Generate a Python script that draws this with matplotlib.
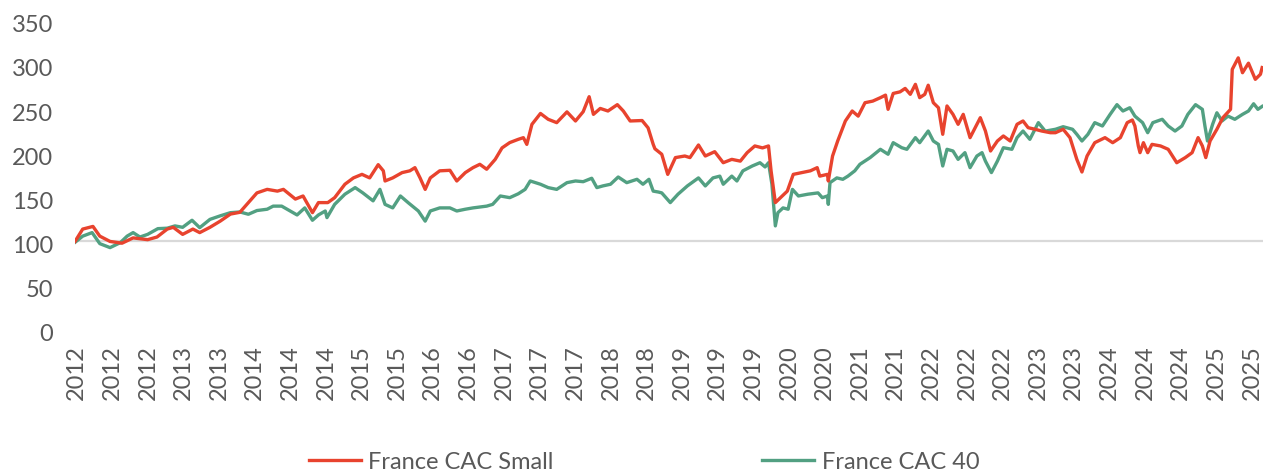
import matplotlib
matplotlib.use("Agg")
import matplotlib.pyplot as plt
import matplotlib.transforms as mtransforms
import numpy as np

plt.rcParams['font.family'] = ['Lato', 'DejaVu Sans']

# France CAC Small, rebased to 100 (decimal year)
small_years = [2012.00, 2012.09, 2012.21, 2012.29, 2012.41, 2012.55, 2012.68, 2012.85, 2012.96, 2013.08,
               2013.15, 2013.26, 2013.38, 2013.46, 2013.58, 2013.70, 2013.82, 2013.93, 2014.03, 2014.13,
               2014.25, 2014.37, 2014.44, 2014.58, 2014.67, 2014.78, 2014.85, 2014.96, 2015.04, 2015.16,
               2015.26, 2015.36, 2015.45, 2015.55, 2015.61, 2015.63, 2015.72, 2015.83, 2015.92, 2015.98,
               2016.04, 2016.10, 2016.16, 2016.27, 2016.39, 2016.47, 2016.57, 2016.66, 2016.74, 2016.82,
               2016.92, 2017.00, 2017.09, 2017.19, 2017.25, 2017.29, 2017.35, 2017.45, 2017.54, 2017.64,
               2017.76, 2017.86, 2017.95, 2018.02, 2018.07, 2018.15, 2018.24, 2018.35, 2018.42, 2018.50,
               2018.64, 2018.71, 2018.77, 2018.79, 2018.87, 2018.94, 2019.03, 2019.14, 2019.20, 2019.30,
               2019.38, 2019.49, 2019.59, 2019.69, 2019.79, 2019.87, 2019.96, 2020.05, 2020.12, 2020.15,
               2020.20, 2020.26, 2020.34, 2020.41, 2020.51, 2020.61, 2020.69, 2020.72, 2020.81, 2020.82,
               2020.87, 2020.93, 2021.02, 2021.10, 2021.17, 2021.25, 2021.34, 2021.43, 2021.49, 2021.52,
               2021.58, 2021.66, 2021.72, 2021.78, 2021.84, 2021.89, 2021.95, 2021.99, 2022.05, 2022.11,
               2022.16, 2022.21, 2022.28, 2022.34, 2022.40, 2022.48, 2022.54, 2022.60, 2022.66, 2022.72,
               2022.80, 2022.87, 2022.95, 2023.03, 2023.10, 2023.16, 2023.24, 2023.32, 2023.42, 2023.48,
               2023.57, 2023.65, 2023.73, 2023.79, 2023.85, 2023.94, 2024.06, 2024.15, 2024.24, 2024.32,
               2024.38, 2024.41, 2024.45, 2024.47, 2024.51, 2024.56, 2024.61, 2024.71, 2024.80, 2024.90,
               2025.00, 2025.08, 2025.15, 2025.20, 2025.24, 2025.29, 2025.37, 2025.44, 2025.53, 2025.55,
               2025.62, 2025.67, 2025.74, 2025.82, 2025.88, 2025.90]
small_vals = [100, 114, 117, 106, 100, 98, 104, 102, 105, 114,
              116, 108, 114, 110, 116, 123, 131, 133, 144, 155,
              159, 157, 159, 148, 151.5, 132.6, 144, 144, 149.6, 164.8,
              172, 176, 172, 187, 180, 168.5, 172, 178, 180, 183.6,
              172, 159, 172, 180, 180.6, 168.5, 178, 183.6, 187.4, 181.8,
              193, 206, 212, 215.7, 217.6, 210, 232.7, 245, 238.4, 234.6,
              246.8, 236.5, 247, 264, 244, 250.7, 247.8, 255, 247.8, 236.5,
              237, 228.7, 210, 205, 198.8, 176, 195, 196.8, 195, 209.3,
              196.8, 201.7, 189.2, 193, 191, 200.6, 208.2, 206, 208.2, 180,
              144, 149.6, 157, 176, 178, 180, 183.6, 174, 176, 168.5,
              196.8, 213.8, 236.5, 247.8, 242, 257.2, 259, 262.9, 265.8, 249.7,
              267.7, 269.5, 273.4, 266.7, 278, 262.9, 266.7, 277, 257.2, 251.5,
              221.4, 253.5, 244, 232.7, 244, 217.6, 228.9, 240.2, 225.1, 202.5,
              213.8, 219.5, 213.8, 232.7, 236.5, 228.9, 227.1, 225.1, 223.2, 223.2,
              227.1, 217.6, 193, 178.7, 196.8, 211.9, 217.6, 211.9, 217.6, 234.6,
              237.6, 230.8, 208.2, 200.6, 211.9, 200.6, 210, 208.2, 204.4, 189.2,
              195, 200.6, 217.6, 208.2, 195, 213.8, 227.1, 240.2, 249.7, 295,
              308, 291.2, 302, 283.7, 289.4, 297]

# France CAC 40, rebased to 100
cac40_years = [2012.00, 2012.09, 2012.20, 2012.29, 2012.41, 2012.53, 2012.61, 2012.68, 2012.76, 2012.85,
               2012.97, 2013.08, 2013.17, 2013.26, 2013.37, 2013.46, 2013.58, 2013.70, 2013.82, 2013.93,
               2014.03, 2014.13, 2014.25, 2014.32, 2014.42, 2014.52, 2014.60, 2014.69, 2014.78, 2014.85,
               2014.93, 2014.95, 2015.04, 2015.16, 2015.28, 2015.37, 2015.49, 2015.57, 2015.63, 2015.72,
               2015.81, 2015.90, 2016.02, 2016.10, 2016.16, 2016.27, 2016.39, 2016.47, 2016.57, 2016.66,
               2016.82, 2016.89, 2016.98, 2017.09, 2017.19, 2017.27, 2017.33, 2017.45, 2017.54, 2017.64,
               2017.76, 2017.86, 2017.95, 2018.05, 2018.11, 2018.18, 2018.27, 2018.36, 2018.46, 2018.58,
               2018.65, 2018.72, 2018.77, 2018.83, 2018.87, 2018.97, 2019.06, 2019.17, 2019.30, 2019.38,
               2019.47, 2019.55, 2019.59, 2019.69, 2019.75, 2019.82, 2019.93, 2020.02, 2020.08, 2020.12,
               2020.16, 2020.20, 2020.23, 2020.29, 2020.35, 2020.40, 2020.47, 2020.58, 2020.70, 2020.75,
               2020.81, 2020.82, 2020.84, 2020.92, 2020.99, 2021.05, 2021.13, 2021.19, 2021.31, 2021.43,
               2021.52, 2021.58, 2021.68, 2021.74, 2021.84, 2021.89, 2021.99, 2022.05, 2022.11, 2022.16,
               2022.21, 2022.28, 2022.34, 2022.42, 2022.48, 2022.56, 2022.62, 2022.66, 2022.73, 2022.80,
               2022.87, 2022.97, 2023.03, 2023.10, 2023.18, 2023.28, 2023.36, 2023.48, 2023.57, 2023.68,
               2023.73, 2023.79, 2023.86, 2023.94, 2024.03, 2024.12, 2024.20, 2024.27, 2024.35, 2024.41,
               2024.50, 2024.56, 2024.62, 2024.73, 2024.80, 2024.88, 2024.96, 2025.03, 2025.12, 2025.20,
               2025.23, 2025.26, 2025.32, 2025.37, 2025.43, 2025.50, 2025.58, 2025.67, 2025.74, 2025.80,
               2025.85, 2025.90]
cac40_vals = [99, 106, 110, 97.5, 93, 98.6, 106, 110, 105, 108,
              114.5, 115, 117.6, 116, 124, 115.6, 125, 129, 132.6, 133.4,
              130.8, 135, 136.5, 140, 140, 134.5, 130, 138, 124, 130,
              134.5, 127, 142, 153.5, 161, 155, 146, 159, 142, 138,
              151.5, 144, 134.5, 123, 134.5, 138, 138, 134.5, 136.5, 138,
              140, 142, 151.5, 149.6, 154, 159, 168.5, 164.8, 161, 159,
              166.6, 168.5, 167.7, 171.6, 161, 162.9, 164.8, 173, 166.6, 170.4,
              164.8, 170.4, 157, 156, 155, 144, 153.5, 162.9, 172, 162.9,
              172, 174, 164.8, 174, 168.5, 180, 185.5, 189.2, 184.4, 189.2,
              164.8, 117.6, 132.6, 138, 136.5, 159, 151.5, 153.5, 155, 149.6,
              151.5, 142, 166.6, 172, 170.4, 174, 180, 187.4, 195, 204.4,
              198.8, 211.9, 206.2, 204.4, 217.6, 211.9, 225.1, 213.8, 210, 185.5,
              204.4, 202.5, 193, 200.6, 183.6, 196.8, 200.6, 191, 178, 191,
              206.2, 204.4, 217.6, 225.1, 215.7, 234.6, 225, 227.1, 230, 227.1,
              221.4, 213.8, 221.4, 234.6, 230.8, 244, 255, 247.8, 251.5, 242,
              234.6, 223.2, 234.6, 238.4, 230.8, 225.1, 230.8, 244, 255, 249.7,
              230.8, 213.8, 232.7, 245.8, 236.5, 242, 238.4, 244, 247.8, 256,
              249.7, 253]

tick_labels = ['2012', '2012', '2012', '2013', '2013', '2014', '2014', '2014', '2015', '2015',
               '2016', '2016', '2017', '2017', '2017', '2018', '2018', '2019', '2019', '2019',
               '2020', '2020', '2021', '2021', '2022', '2022', '2022', '2023', '2023', '2024',
               '2024', '2024', '2025', '2025']

red = '#E8432E'
green = '#52A082'
text_grey = '#595959'

fig = plt.figure(figsize=(12.63, 4.73), dpi=100)
ax = fig.add_axes([0.0594, 0.303, 0.9406, 0.653])

# category axis crosses at 100
ax.axhline(100, color='#D9D9D9', lw=1.6, zorder=1)

ax.plot(small_years, small_vals, color=red, lw=2.4, label='France CAC Small', zorder=3,
        solid_joinstyle='round')
ax.plot(cac40_years, cac40_vals, color=green, lw=2.4, label='France CAC 40', zorder=2,
        solid_joinstyle='round')

ax.set_xlim(2012.0, 2025.91)
ax.set_ylim(0, 350)
ax.set_yticks(np.arange(0, 351, 50))

tick_pos = np.linspace(2012.02, 2025.78, len(tick_labels))
ax.set_xticks(tick_pos)
ax.set_xticklabels(tick_labels, rotation=90)

for s in ax.spines.values():
    s.set_visible(False)
ax.tick_params(axis='both', length=0, labelsize=17, labelcolor=text_grey)
ax.tick_params(axis='y', pad=16)
ax.tick_params(axis='x', pad=11)

# Excel draws the value labels a touch below the gridline value
shift = mtransforms.ScaledTranslation(0, -3 / 100, fig.dpi_scale_trans)
for lab in ax.get_yticklabels():
    lab.set_transform(lab.get_transform() + shift)

leg = ax.legend(loc='center', bbox_to_anchor=(0.510, 0.023), bbox_transform=fig.transFigure,
                ncol=2, frameon=False, fontsize=17, handlelength=2.2, handletextpad=0.3,
                columnspacing=8.85)
for t in leg.get_texts():
    t.set_color(text_grey)

fig.savefig('out.png', dpi=100)
